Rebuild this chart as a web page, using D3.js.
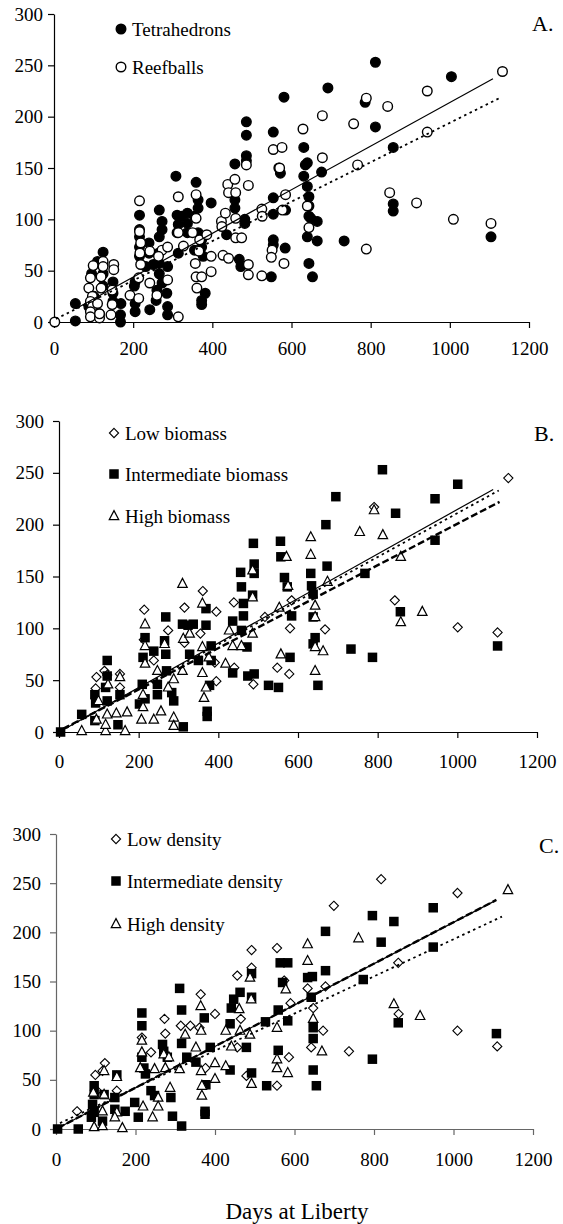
<!DOCTYPE html>
<html>
<head>
<meta charset="utf-8">
<script src="https://cdn.jsdelivr.net/npm/d3@7"></script>
<style>
  body { margin: 0; background: #fff; }
</style>
</head>
<body>
<svg id="chart"></svg>
<script>
const WIDTH = 563;
const HEIGHT = 1224;
const FONT = '"Liberation Serif", "Times New Roman", "DejaVu Serif", serif';

const X_TICKS = [0, 200, 400, 600, 800, 1000, 1200];
const Y_TICKS = [0, 50, 100, 150, 200, 250, 300];

// Panel A: structure type, [days, value]
const tetrahedrons = [
  [54, 18], [54, 1], [124, 68], [110, 59], [95, 47], [124, 47], [124, 35], [101, 25], [88, 15], [115, 8],
  [149, 39], [149, 28], [149, 20], [169, 18], [168, 7], [168, 0],
  [205, 39], [203, 35], [205, 18], [205, 10], [216, 104], [216, 90], [216, 83], [216, 73], [216, 64],
  [240, 77], [240, 67], [242, 12], [232, 54], [251, 56],
  [266, 109], [273, 98], [273, 90], [266, 83], [264, 67], [266, 57], [266, 47], [260, 31], [258, 21],
  [285, 28], [287, 15], [287, 7], [273, 38], [287, 54],
  [308, 142], [311, 104], [314, 95], [311, 87], [323, 103], [337, 106], [337, 96], [337, 87], [314, 67],
  [359, 136], [364, 119], [364, 111], [355, 103], [373, 80], [373, 73], [355, 70], [377, 64], [397, 116],
  [382, 28], [373, 21], [373, 17], [364, 87],
  [436, 85], [457, 154], [486, 195], [486, 182], [486, 162], [486, 157], [457, 111], [457, 119],
  [482, 100], [482, 96], [468, 61], [472, 54],
  [554, 185], [554, 121], [554, 105], [554, 80], [554, 75], [549, 44], [568, 150], [572, 145],
  [581, 219], [584, 72], [585, 109],
  [631, 170], [631, 142], [635, 153], [640, 155], [640, 132], [644, 122], [644, 113], [644, 103],
  [649, 101], [640, 83], [644, 57], [653, 44], [665, 98], [665, 79], [676, 146],
  [692, 228], [733, 79], [786, 214], [812, 253], [812, 190], [857, 170], [857, 115], [857, 108],
  [1004, 239], [1104, 83]
];
const reefballs = [
  [2, 0], [99, 55], [124, 59], [124, 54], [92, 43], [88, 33], [97, 25], [92, 20], [97, 15], [92, 10],
  [92, 5], [115, 4], [115, 8], [119, 33], [151, 56], [151, 51], [147, 31], [147, 17], [144, 7], [119, 44],
  [110, 18], [192, 26], [216, 118], [216, 88], [219, 77], [217, 67], [219, 56], [214, 43], [214, 23],
  [242, 38], [242, 69], [260, 26], [273, 70], [264, 64], [287, 73], [287, 41], [314, 122], [314, 87],
  [314, 5], [327, 74], [350, 87], [359, 124], [359, 101], [357, 57], [361, 33], [359, 44], [373, 44],
  [366, 69], [368, 80], [386, 85], [397, 64], [397, 49],
  [423, 98], [424, 93], [433, 106], [439, 134], [441, 126], [427, 65], [441, 62], [457, 139], [459, 126],
  [459, 101], [459, 82], [474, 82], [486, 153], [491, 133], [491, 56], [491, 46], [525, 110], [526, 103],
  [525, 45], [554, 168], [576, 170], [570, 150], [551, 70], [549, 63], [581, 57], [585, 124], [577, 109],
  [629, 188], [640, 113], [644, 92], [678, 201], [678, 160], [757, 193], [767, 153], [789, 218], [789, 71],
  [843, 210], [848, 126], [916, 116], [943, 225], [943, 185], [1009, 100], [1104, 96], [1133, 244]
];
const fitTetrahedrons = [[55, 13], [1109, 237]];
const fitReefballs = [[5, 3], [1125, 218]];

// Panel B: biomass class
const lowBiomass = [
  [94, 53], [92, 42], [114, 59], [121, 55], [153, 56], [153, 43], [214, 118], [213, 89], [238, 69],
  [274, 98], [315, 120], [315, 86], [361, 136], [355, 95], [395, 116], [395, 49], [391, 67], [439, 125],
  [440, 62], [488, 46], [517, 111], [548, 62], [578, 56], [580, 100], [584, 127], [668, 99], [791, 217],
  [843, 127], [1001, 101], [1101, 96], [1128, 245]
];
const intermediateBiomass = [
  [4, 0], [57, 17], [90, 36], [92, 28], [90, 11], [121, 69], [121, 54], [117, 43], [121, 30], [148, 7],
  [153, 36], [202, 27], [209, 46], [216, 91], [211, 72], [216, 32], [238, 78], [247, 46], [247, 36],
  [268, 111], [265, 88], [268, 75], [270, 59], [283, 38], [288, 30], [310, 104], [324, 103], [337, 104],
  [328, 75], [312, 5], [350, 69], [369, 119], [369, 103], [372, 20], [372, 15], [378, 45], [382, 83],
  [382, 69], [436, 107], [436, 57], [456, 154], [458, 140], [463, 124], [463, 112], [458, 98], [472, 82],
  [474, 54], [488, 182], [490, 162], [490, 153], [486, 132], [490, 56], [526, 45], [551, 43], [556, 184],
  [557, 169], [566, 149], [573, 140], [580, 72], [584, 112], [632, 153], [634, 141], [638, 133],
  [638, 111], [643, 91], [638, 85], [650, 45], [670, 200], [673, 160], [695, 227], [733, 80], [768, 153],
  [787, 72], [812, 253], [845, 211], [857, 116], [944, 225], [944, 185], [1001, 239], [1101, 83]
];
const highBiomass = [
  [57, 1], [94, 12], [117, 1], [117, 7], [121, 17], [123, 46], [99, 30], [153, 53], [166, 1], [171, 19],
  [144, 18], [207, 12], [211, 24], [211, 36], [216, 104], [216, 83], [216, 66], [238, 12], [247, 59],
  [256, 20], [265, 85], [274, 43], [288, 14], [288, 6], [288, 51], [310, 143], [312, 90], [310, 59],
  [328, 95], [360, 124], [360, 82], [360, 57], [364, 33], [369, 43], [376, 72], [418, 66], [427, 98],
  [436, 83], [458, 83], [486, 156], [486, 130], [486, 95], [553, 120], [557, 75], [571, 169], [575, 141],
  [632, 188], [632, 171], [643, 122], [643, 111], [643, 82], [643, 59], [663, 78], [674, 145], [755, 193],
  [791, 214], [813, 190], [858, 169], [858, 106], [912, 116]
];
const fitLowBiomass = [[5, 1], [1090, 234]];
const fitIntermediateBiomass = [[5, 1], [1104, 233]];
const fitHighBiomass = [[10, 3], [1106, 222]];

// Panel C: density class
const lowDensity = [
  [53, 18], [99, 55], [123, 67], [117, 59], [103, 39], [153, 39], [216, 93], [239, 78], [273, 112],
  [275, 97], [314, 105], [338, 105], [364, 137], [361, 103], [376, 62], [400, 117], [456, 156], [465, 112],
  [456, 83], [479, 54], [492, 182], [492, 164], [556, 184], [556, 44], [574, 151], [586, 73], [590, 128],
  [633, 143], [647, 123], [642, 83], [672, 100], [678, 145], [699, 227], [737, 79], [818, 254], [861, 169],
  [862, 117], [1010, 240], [1010, 100], [1110, 84]
];
const intermediateDensity = [
  [4, 0], [56, 0], [96, 44], [96, 35], [92, 25], [96, 17], [89, 12], [121, 35], [117, 8], [153, 55],
  [148, 32], [148, 20], [174, 18], [198, 27], [207, 12], [216, 118], [216, 105], [216, 73], [221, 62],
  [225, 56], [239, 39], [248, 34], [268, 86], [271, 79], [280, 73], [289, 32], [293, 13], [316, 3],
  [311, 143], [316, 121], [316, 87], [329, 73], [352, 68], [373, 113], [375, 18], [375, 15], [377, 45],
  [388, 83], [438, 107], [441, 123], [438, 60], [447, 132], [463, 139], [479, 83], [492, 158], [492, 134],
  [492, 57], [527, 109], [530, 44], [559, 121], [559, 80], [564, 169], [583, 169], [570, 149], [583, 110],
  [633, 154], [645, 155], [642, 134], [647, 103], [647, 92], [647, 60], [655, 44], [678, 201], [678, 161],
  [773, 152], [796, 217], [796, 71], [818, 190], [850, 211], [861, 108], [949, 225], [949, 185], [1108, 97]
];
const highDensity = [
  [96, 2], [94, 37], [117, 3], [117, 18], [121, 35], [121, 59], [153, 53], [153, 17], [148, 12], [167, 1],
  [216, 90], [216, 78], [212, 62], [219, 23], [243, 12], [248, 61], [257, 32], [257, 23], [271, 76],
  [275, 62], [284, 73], [287, 42], [311, 61], [325, 96], [352, 83], [364, 125], [365, 100], [365, 59],
  [367, 44], [367, 34], [400, 51], [400, 67], [427, 64], [427, 100], [441, 84], [461, 122], [463, 100],
  [488, 154], [491, 132], [488, 96], [492, 46], [556, 103], [556, 71], [556, 62], [578, 142], [583, 57],
  [633, 171], [633, 188], [647, 112], [669, 79], [761, 194], [850, 127], [916, 115], [1137, 243]
];
const fitLowDensity = [[5, 1], [1104, 232]];
const fitIntermediateDensity = [[5, 1], [1108, 233]];
const fitHighDensity = [[10, 6], [1122, 216]];

const svg = d3.select('#chart')
  .attr('width', WIDTH)
  .attr('height', HEIGHT);

// marker shapes
function drawMarker(g, kind, x, y) {
  if (kind === 'filledCircle' || kind === 'openCircle') {
    g.append('circle')
      .attr('cx', x).attr('cy', y).attr('r', 4.8)
      .attr('fill', kind === 'filledCircle' ? '#000' : '#fff')
      .attr('stroke', '#000').attr('stroke-width', 1.4);
  } else if (kind === 'diamond') {
    const s = 4.6;
    g.append('path')
      .attr('d', `M${x},${y - s}L${x + s},${y}L${x},${y + s}L${x - s},${y}Z`)
      .attr('fill', '#fff').attr('stroke', '#000').attr('stroke-width', 1.1);
  } else if (kind === 'square') {
    const s = 9.5;
    g.append('rect')
      .attr('x', x - s / 2).attr('y', y - s / 2)
      .attr('width', s).attr('height', s)
      .attr('fill', '#000');
  } else if (kind === 'triangle') {
    const w = 9.5, h = 9;
    g.append('path')
      .attr('d', `M${x},${y - h * 0.6}L${x + w / 2},${y + h * 0.4}L${x - w / 2},${y + h * 0.4}Z`)
      .attr('fill', '#fff').attr('stroke', '#000').attr('stroke-width', 1.2);
  }
}

const LINE_STYLES = {
  solid: { dash: null, width: 1.2 },
  dotted: { dash: '2.5,3.5', width: 1.8 },
  dashed: { dash: '7,3', width: 2.4 }
};

function makePanel(p) {
  const x = d3.scaleLinear().domain([0, 1200]).range([p.left, p.right]);
  const y = d3.scaleLinear().domain([0, 300]).range([p.bottom, p.top]);
  const g = svg.append('g');

  const xAxis = d3.axisBottom(x).tickValues(X_TICKS).tickFormat(d3.format('d'))
    .tickSize(6).tickSizeOuter(0).tickPadding(p.xPad);
  const yAxis = d3.axisLeft(y).tickValues(Y_TICKS).tickFormat(d3.format('d'))
    .tickSize(6).tickSizeOuter(0).tickPadding(p.yPad);

  const gx = g.append('g').attr('transform', `translate(0,${p.bottom})`).call(xAxis);
  const gy = g.append('g').attr('transform', `translate(${p.left},0)`).call(yAxis);
  [gx, gy].forEach(a => {
    a.attr('font-family', null).attr('font-size', null);
    a.selectAll('path, line').attr('stroke', p.axisColor).attr('stroke-width', 1.2);
    a.selectAll('text')
      .style('font-family', FONT)
      .style('font-size', '19px')
      .attr('fill', '#000');
  });

  // points
  p.series.forEach(s => {
    const sg = g.append('g');
    s.data.forEach(d => drawMarker(sg, s.kind, x(d[0]), y(d[1])));
  });

  // fitted lines
  const line = d3.line().x(d => x(d[0])).y(d => y(d[1]));
  p.fits.forEach(f => {
    const st = LINE_STYLES[f.style];
    g.append('path')
      .datum(f.data)
      .attr('d', line)
      .attr('fill', 'none')
      .attr('stroke', '#000')
      .attr('stroke-width', st.width)
      .attr('stroke-dasharray', st.dash);
  });

  // legend
  p.series.forEach((s, i) => {
    const ly = p.legendY[i];
    drawMarker(g, s.kind, p.legendX, ly);
    g.append('text')
      .attr('x', p.legendX + 11)
      .attr('y', ly)
      .attr('dy', '0.35em')
      .style('font-family', FONT)
      .style('font-size', '19px')
      .text(s.name);
  });

  g.append('text')
    .attr('x', p.letterX)
    .attr('y', p.letterY)
    .attr('dy', '0.35em')
    .style('font-family', FONT)
    .style('font-size', '22px')
    .text(p.letter);
}

makePanel({
  left: 54, right: 529, top: 14, bottom: 322, xPad: 14, yPad: 5, axisColor: '#000',
  series: [
    { name: 'Tetrahedrons', kind: 'filledCircle', data: tetrahedrons },
    { name: 'Reefballs', kind: 'openCircle', data: reefballs }
  ],
  fits: [
    { style: 'solid', data: fitTetrahedrons },
    { style: 'dotted', data: fitReefballs }
  ],
  legendX: 121, legendY: [29, 67],
  letter: 'A.', letterX: 532, letterY: 23
});

makePanel({
  left: 59, right: 537, top: 421, bottom: 732, xPad: 17, yPad: 9, axisColor: '#000',
  series: [
    { name: 'Low biomass', kind: 'diamond', data: lowBiomass },
    { name: 'Intermediate biomass', kind: 'square', data: intermediateBiomass },
    { name: 'High biomass', kind: 'triangle', data: highBiomass }
  ],
  fits: [
    { style: 'solid', data: fitLowBiomass },
    { style: 'dotted', data: fitIntermediateBiomass },
    { style: 'dashed', data: fitHighBiomass }
  ],
  legendX: 114, legendY: [433, 474, 516],
  letter: 'B.', letterX: 534, letterY: 433
});

makePanel({
  left: 56, right: 533, top: 834, bottom: 1129, xPad: 18, yPad: 9, axisColor: '#666',
  series: [
    { name: 'Low density', kind: 'diamond', data: lowDensity },
    { name: 'Intermediate density', kind: 'square', data: intermediateDensity },
    { name: 'High density', kind: 'triangle', data: highDensity }
  ],
  fits: [
    { style: 'solid', data: fitLowDensity },
    { style: 'dashed', data: fitIntermediateDensity },
    { style: 'dotted', data: fitHighDensity }
  ],
  legendX: 116, legendY: [839, 881, 924],
  letter: 'C.', letterX: 539, letterY: 845
});

svg.append('text')
  .attr('x', 297)
  .attr('y', 1211)
  .attr('dy', '0.35em')
  .attr('text-anchor', 'middle')
  .style('font-family', FONT)
  .style('font-size', '23px')
  .text('Days at Liberty');
</script>
</body>
</html>
